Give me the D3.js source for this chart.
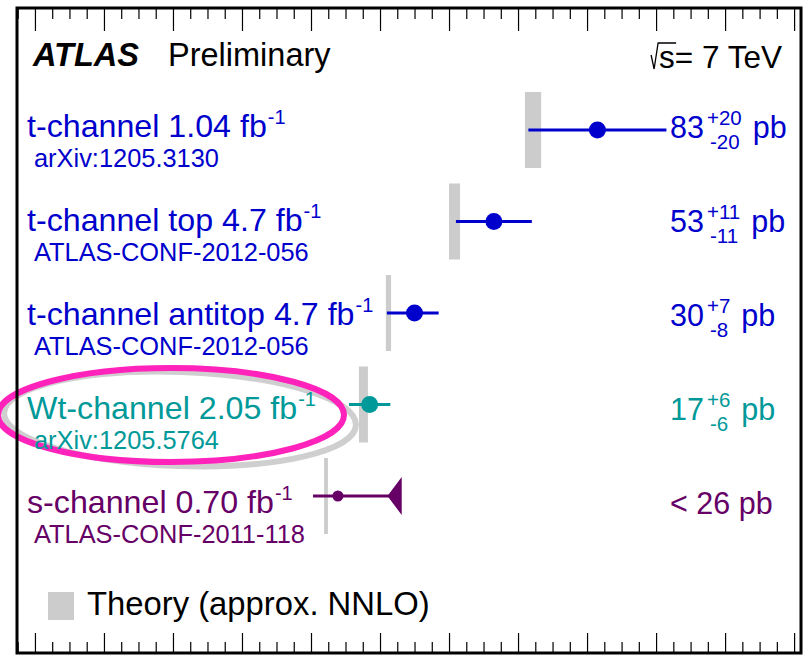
<!DOCTYPE html>
<html><head><meta charset="utf-8">
<script src="https://cdn.jsdelivr.net/npm/d3@7"></script>
<style>body{margin:0;background:#fff}svg{display:block}text{font-family:"Liberation Sans",Arial,Helvetica,sans-serif}</style>
</head><body><svg id="c" width="807" height="655"></svg>
<script>
// ---- data ----
const channels   = ["t-channel", "t-channel top", "t-channel antitop", "Wt-channel", "s-channel"];
const lumis      = ["1.04", "4.7", "4.7", "2.05", "0.70"];
const refs       = ["arXiv:1205.3130", "ATLAS-CONF-2012-056", "ATLAS-CONF-2012-056", "arXiv:1205.5764", "ATLAS-CONF-2011-118"];
const measured   = [83, 53, 30, 17, 7.8];
const errLow     = [63, 42, 22, 11, 0.6];
const errHigh    = [103, 64, 37, 23, 26];
const isLimit    = [false, false, false, false, true];
const theoryLow  = [62.0, 40.0, 21.7, 13.9, 3.8];
const theoryHigh = [66.7, 43.2, 23.2, 16.5, 4.9];
const valueMain  = ["83", "53", "30", "17", "< 26"];
const valueUp    = ["+20", "+11", "+7", "+6", ""];
const valueDown  = ["-20", "-11", "-8", "-6", ""];
const colors     = ["#0000cc", "#0000cc", "#0000cc", "#009999", "#660066"];
const xDomain    = [-85.2, 142];
const majorStep  = 20, minorStep = 5;

const svg = d3.select("#c");
const L = 17, R = 801, T = 8, B = 653;
const x = d3.scaleLinear().domain(xDomain).range([L, R]);
const yBar = d3.scalePoint().domain(channels).range([130, 496]);
const yTxt = d3.scalePoint().domain(channels).range([137, 513]);

// highlight ellipses
svg.append("ellipse").attr("cx", 180).attr("cy", 419).attr("rx", 176).attr("ry", 47)
  .attr("transform", "rotate(2,180,419)")
  .attr("fill", "none").attr("stroke", "#cfcfcf").attr("stroke-width", 6);
svg.append("ellipse").attr("cx", 171).attr("cy", 415).attr("rx", 173).attr("ry", 47)
  .attr("fill", "none").attr("stroke", "#ff22bb").attr("stroke-width", 6);

// theory bands
svg.append("g").selectAll("rect").data(channels).join("rect")
  .attr("x", (d, i) => x(theoryLow[i]))
  .attr("width", (d, i) => x(theoryHigh[i]) - x(theoryLow[i]))
  .attr("y", d => yBar(d) - 38).attr("height", 76)
  .attr("fill", "#cccccc");

// error bars
const g = svg.append("g");
channels.forEach((c, i) => {
  const yy = yBar(c);
  g.append("line").attr("x1", x(errLow[i])).attr("x2", x(errHigh[i]))
    .attr("y1", yy).attr("y2", yy).attr("stroke", colors[i]).attr("stroke-width", 3);
  if (isLimit[i]) {
    const xe = x(errHigh[i]);
    g.append("path").attr("d", `M${xe},${yy - 16}L${xe},${yy + 16}L${xe - 12},${yy}Z`)
      .attr("fill", colors[i]).attr("stroke", colors[i]).attr("stroke-width", 2);
    g.append("circle").attr("cx", x(measured[i])).attr("cy", yy).attr("r", 5.5).attr("fill", colors[i]);
  } else {
    g.append("circle").attr("cx", x(measured[i])).attr("cy", yy).attr("r", 8.5).attr("fill", colors[i]);
  }
});

// left labels
channels.forEach((c, i) => {
  const yy = yTxt(c);
  const t = svg.append("text").attr("x", 27).attr("y", yy).attr("fill", colors[i])
    .style("font-size", "32.2px");
  t.append("tspan").text(c + " " + lumis[i] + " fb");
  t.append("tspan").attr("dx", 1).attr("dy", -13).style("font-size", "20px").text("-1");
  svg.append("text").attr("x", 34).attr("y", yy + 30).attr("fill", colors[i])
    .style("font-size", "25.4px").text(refs[i]);
});

// right values
channels.forEach((c, i) => {
  const yy = yTxt(c) + 1;
  const m = svg.append("text").attr("x", 670).attr("y", yy).attr("fill", colors[i])
    .style("font-size", "30.5px").text(valueMain[i] + (isLimit[i] ? " pb" : ""));
  if (!isLimit[i]) {
    const w = m.node().getComputedTextLength();
    const xs = 670 + w + 3;
    const up = svg.append("text").attr("x", xs).attr("y", yy - 13).attr("fill", colors[i])
      .style("font-size", "20.5px").text(valueUp[i]);
    const dn = svg.append("text").attr("x", xs + 3).attr("y", yy + 11).attr("fill", colors[i])
      .style("font-size", "20.5px").text(valueDown[i]);
    const ww = Math.max(up.node().getComputedTextLength(), dn.node().getComputedTextLength() + 3);
    svg.append("text").attr("x", xs + ww + 11).attr("y", yy).attr("fill", colors[i])
      .style("font-size", "30.5px").text("pb");
  }
});

// header
svg.append("text").attr("x", 33).attr("y", 66).style("font-size", "32.5px")
  .style("font-weight", "bold").style("font-style", "italic").text("ATLAS");
svg.append("text").attr("x", 168).attr("y", 66).style("font-size", "32.5px").text("Preliminary");
const e = svg.append("text").attr("x", 782).attr("y", 68).attr("text-anchor", "end")
  .style("font-size", "31.5px").text("s= 7 TeV");
const ex = e.node().getBBox().x;
svg.append("path")
  .attr("d", `M${ex - 8},55 L${ex - 5},69 L${ex - 1},43 L${ex + 17},43`)
  .attr("fill", "none").attr("stroke", "#000").attr("stroke-width", 1.3);

// legend
svg.append("rect").attr("x", 48).attr("y", 592).attr("width", 26).attr("height", 28).attr("fill", "#cccccc");
svg.append("text").attr("x", 87).attr("y", 615).style("font-size", "32.8px").text("Theory (approx. NNLO)");

// axes ticks
const majors = d3.range(-80, 141, majorStep);
const minors = d3.range(-85, 142, minorStep).filter(v => v % majorStep !== 0);
const mk = (axis, y, vals, size) => svg.append("g").attr("transform", `translate(0,${y})`)
  .call(axis(x).tickValues(vals).tickSize(size).tickFormat(""))
  .call(s => s.select(".domain").remove())
  .call(s => s.selectAll("line").attr("stroke", "#000").attr("stroke-width", 1.2));
mk(d3.axisBottom, T, majors, 23);
mk(d3.axisBottom, T, minors, 11);
mk(d3.axisTop, B, majors, 20);
mk(d3.axisTop, B, minors, 11);

// frame
svg.append("rect").attr("x", L).attr("y", T).attr("width", R - L).attr("height", B - T)
  .attr("fill", "none").attr("stroke", "#000").attr("stroke-width", 3);
</script></body></html>
